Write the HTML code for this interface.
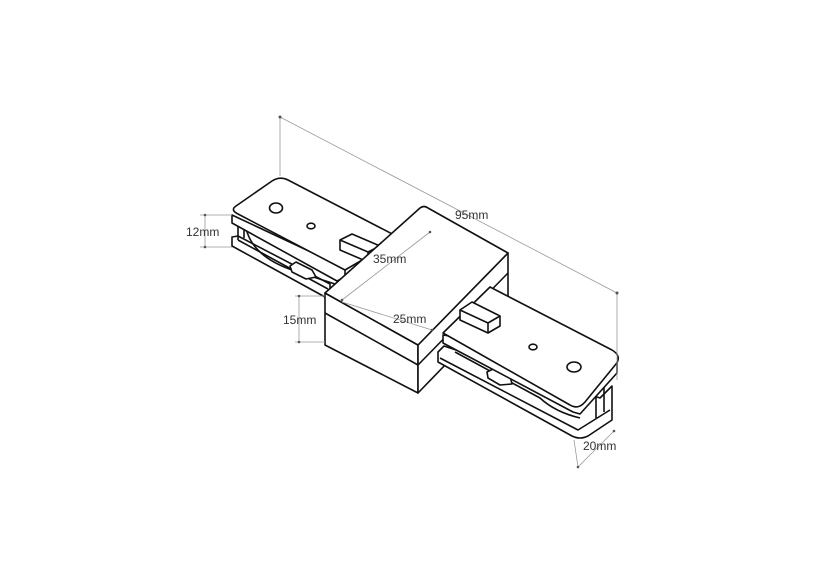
<!DOCTYPE html>
<html><head><meta charset="utf-8"><style>
html,body{margin:0;padding:0;background:#fff;}
svg{display:block;}
text{font-family:"Liberation Sans",sans-serif;font-size:12px;fill:#333;}
</style></head><body>
<svg width="830" height="584" viewBox="0 0 830 584">
<g fill="#fff" stroke="#111" stroke-width="1.6" stroke-linejoin="round">
 <!-- left arm bottom rail -->
 <path d="M232 237 L232 246 L325 297 L330 290 L330 284 L238 236 Z"/>
 <path d="M238 240 L328 289" fill="none"/>
 <path d="M238 225 L238 240 M244 227 L244 238" fill="none"/>
 <path d="M246 228 Q252 256 292 270 L335 284" fill="none"/>
 <path d="M290 266 L296 262 L312 270 L316 277 L306 279 L292 272 Z"/>
 <!-- left plate -->
 <path d="M232 215 L232 223 L337 281 L345 277 L345 268 Z"/>
 <path d="M236 206 L272 181 Q280 176 288 180 L400 238 L345 270 L238 214 Q230 210 236 206 Z"/>
 <ellipse cx="276" cy="208" rx="6.5" ry="5"/>
 <ellipse cx="311" cy="226" rx="4" ry="2.8"/>
 <!-- left tab -->
 <path d="M340 240 L352 234 L380 246 L380 256 L368 262 L340 250 Z"/>
 <path d="M340 240 L368 252 L380 246 M368 252 L368 262"/>
 <!-- block -->
 <path d="M325 293 L418 345 L418 393 L325 345 Z"/>
 <path d="M418 345 L508 253 L508 300 L418 393 Z"/>
 <path d="M325 293 L420 208 Q424 205 428 208 L508 253 L418 345 Z"/>
 <path d="M325 313 L418 365 L508 273" fill="none"/>
 <!-- right arm rail -->
 <path d="M438 352 L438 362 L572 436 Q580 440 588 436 L612 420 L612 386 L600 398 L444 346 Z"/>
 <path d="M440 358 L578 430 L610 410" fill="none"/>
 <path d="M604 380 L604 412 M596 392 L596 418" fill="none"/>
 <path d="M455 352 L540 398 Q555 412 580 418" fill="none"/>
 <path d="M487 372 L495 368 L510 376 L512 384 L500 385 L488 378 Z"/>
 <!-- right plate -->
 <path d="M443 335 L443 343 L573 412 L580 414 L617 373 L617 363 Z"/>
 <path d="M443 333 L490 287 L612 350 Q622 356 616 364 L585 402 Q578 410 570 405 Z"/>
 <ellipse cx="574" cy="367" rx="7" ry="5"/>
 <ellipse cx="533" cy="347" rx="4" ry="2.8"/>
 <!-- right tab -->
 <path d="M460 310 L472 302 L500 316 L500 326 L488 333 L460 320 Z"/>
 <path d="M460 310 L488 323 L500 316 M488 323 L488 333"/>
</g>
<g fill="none" stroke="#999" stroke-width="0.8">
 <line x1="280" y1="117" x2="617" y2="293"/>
 <line x1="280" y1="117" x2="280" y2="176"/>
 <line x1="617" y1="293" x2="617" y2="380"/>
 <line x1="430" y1="232" x2="342" y2="300"/>
 <line x1="342" y1="302" x2="432" y2="330"/>
 <line x1="205" y1="215" x2="205" y2="247"/>
 <line x1="200" y1="215" x2="232" y2="215"/>
 <line x1="200" y1="247" x2="232" y2="247"/>
 <line x1="299" y1="296" x2="299" y2="342"/>
 <line x1="295" y1="296" x2="325" y2="296"/>
 <line x1="295" y1="342" x2="325" y2="342"/>
 <line x1="578" y1="467" x2="614" y2="431"/>
 <line x1="578" y1="467" x2="574" y2="440"/>
</g>
<g fill="#555" stroke="none">
 <circle cx="280" cy="117" r="1.5"/><circle cx="617" cy="293" r="1.5"/>
 <circle cx="205" cy="215" r="1.3"/><circle cx="205" cy="247" r="1.3"/>
 <circle cx="299" cy="296" r="1.3"/><circle cx="299" cy="342" r="1.3"/>
 <circle cx="578" cy="467" r="1.3"/><circle cx="614" cy="431" r="1.3"/>
 <circle cx="430" cy="232" r="1.3"/><circle cx="342" cy="300" r="1.3"/><circle cx="432" cy="330" r="1.3"/>
</g>
<text x="455" y="219">95mm</text>
<text x="373" y="263">35mm</text>
<text x="393" y="323">25mm</text>
<text x="186" y="236">12mm</text>
<text x="283" y="324">15mm</text>
<text x="583" y="450">20mm</text>
</svg>
</body></html>
